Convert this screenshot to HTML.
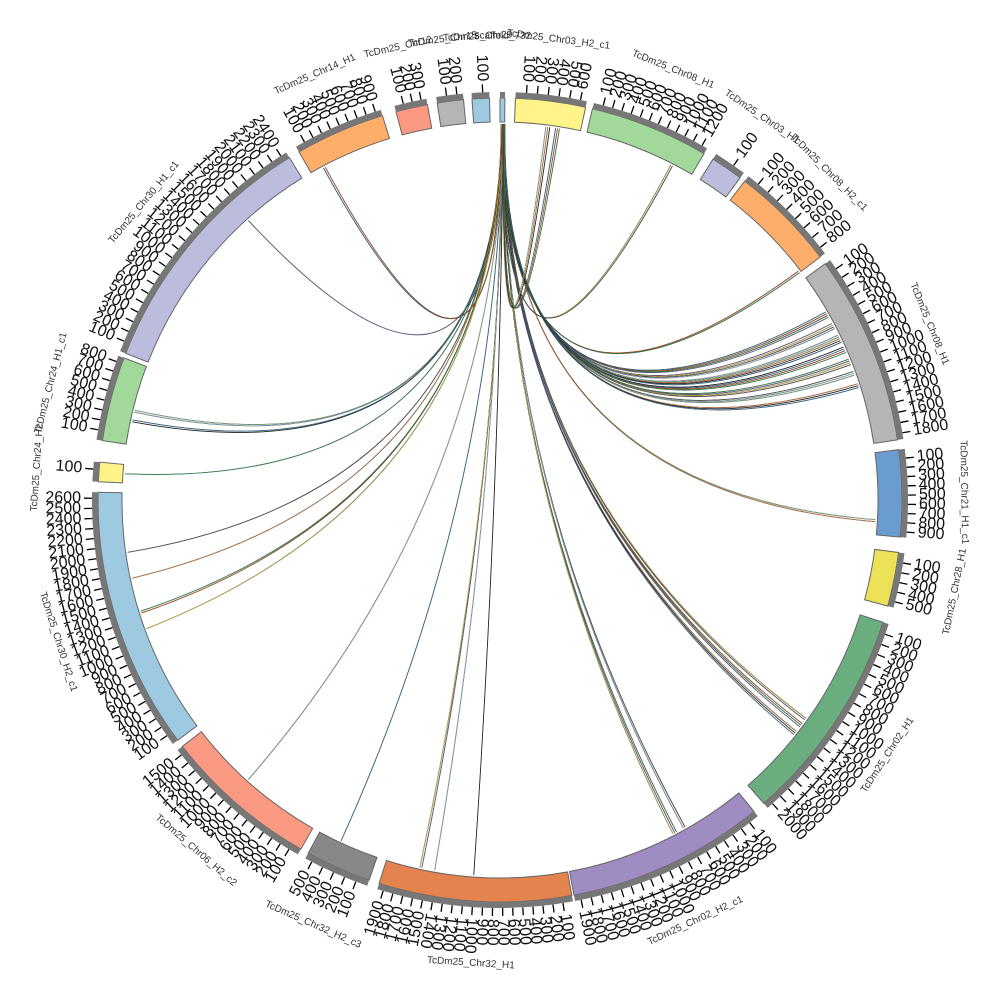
<!DOCTYPE html>
<html><head><meta charset="utf-8"><style>
html,body{margin:0;padding:0;background:#fff;width:1000px;height:1000px;overflow:hidden}
svg{display:block}
</style></head><body>
<svg id="s" width="1000" height="1000" xmlns="http://www.w3.org/2000/svg"></svg>
<script>
var S=document.getElementById('s'),NS='http://www.w3.org/2000/svg',CX=500,CY=500;
function el(t,a,txt){var e=document.createElementNS(NS,t);for(var k in a)e.setAttribute(k,a[k]);if(txt!=null)e.textContent=txt;S.appendChild(e);return e;}
function P(a,r){var t=a*Math.PI/180;return [CX+r*Math.sin(t),CY-r*Math.cos(t)];}
function arc(a0,a1,r0,r1,fill,stroke){var p0=P(a0,r1),p1=P(a1,r1),p2=P(a1,r0),p3=P(a0,r0),l=(a1-a0)>180?1:0;
el('path',{d:'M'+p0+' A'+r1+' '+r1+' 0 '+l+' 1 '+p1+' L'+p2+' A'+r0+' '+r0+' 0 '+l+' 0 '+p3+'Z',fill:fill,stroke:stroke||'none','stroke-width':1});}
var segs=[
[0,0.7,'#9ecae1','scaffold_732',0],
[2.2,12.3,'#fff38a','TcDm25_Chr03_H2_c1',6],
[13.3,30.5,'#a1d99b','TcDm25_Chr08_H1',12],
[32,36.7,'#bcbddc','TcDm25_Chr03_H1',1],
[37.5,52.8,'#fdae6b','TcDm25_Chr08_H2_c1',8],
[54,81.4,'#b5b5b5','TcDm25_Chr08_H1',18],
[82.8,95.3,'#6a9ccf','TcDm25_Chr21_H1_c1',9],
[97.5,105.3,'#ede157','TcDm25_Chr28_H1',5],
[107.7,139,'#6aae7f','TcDm25_Chr02_H1',20],
[140.8,169.4,'#9e8cc2','TcDm25_Chr02_H2_c1',19],
[169.7,197.5,'#e5834f','TcDm25_Chr32_H1',19],
[199,208.5,'#888888','TcDm25_Chr32_H2_c3',5],
[209.7,232.2,'#fb9a82','TcDm25_Chr06_H2_c2',15],
[233.3,271.1,'#9ecae1','TcDm25_Chr30_H2_c1',26],
[272.6,275.4,'#fff38a','TcDm25_Chr24_H2',1],
[278.5,290.7,'#a1d99b','TcDm25_Chr24_H1_c1',8],
[291.4,328.4,'#bcbddc','TcDm25_Chr30_H1_c1',24],
[330,343,'#fdae6b','TcDm25_Chr14_H1',9],
[345,349.6,'#fb9a82','TcDm25_Chr12',3],
[351,354.8,'#b5b5b5','TcDm25_Chr15',2],
[356,358.5,'#9ecae1','TcDm25_Chr29',1]];
var cols=['#3182bd','#e6550d','#31a354','#756bb1','#fdd835','#636363','#9ecae1','#a1d99b','#fd8d3c','#222'];
var links=[[0.2,332,2],[0.3,318,1],[0.2,283.5,2],[0.3,282,2],[0.4,274,1],[0.3,262,1],[0.2,258,1],[0.3,252.5,2],[0.4,250,1],[0.5,222,1],[0.4,205,1],[0.5,192,2],[0.3,190,1],[0.5,184,1],[0.4,152,3],[0.5,150.5,2],[0.3,128,3],[0.4,126.5,3],[0.6,125.5,2],[0.5,93,2],
[0.3,60,4],[0.4,62,4],[0.5,64,5],[0.3,66,4],[0.6,68,4],[0.4,70,3],[0.5,72,3],[0.4,52.5,2],[0.3,27,2],[0.5,7,3],[0.6,8.5,3]];
links.forEach(function(L,i){for(var k=0;k<L[2];k++){var a0=L[0]+k*0.05,a1=L[1]+k*0.3;var p0=P(a0,376),p1=P(a1,376);
el('path',{d:'M'+p0+' Q'+CX+' '+(CY-10)+' '+p1,fill:'none',stroke:'#222','stroke-width':0.9,opacity:0.9});
el('path',{d:'M'+p0+' Q'+CX+' '+(CY-10)+' '+p1,fill:'none',stroke:cols[(i*3+k)%cols.length],'stroke-width':0.5});}});
segs.forEach(function(s){
arc(s[0],s[1],378,402,s[2],'#666');
arc(s[0],s[1],402,408,'#777');
var n=s[4],span=s[1]-s[0];
for(var i=1;i<=n;i++){var a=s[0]+span*i/(n+0.6);if(a>s[1])break;
var q0=P(a,408),q1=P(a,416);el('line',{x1:q0[0],y1:q0[1],x2:q1[0],y2:q1[1],stroke:'#000','stroke-width':1.3});
var t=P(a,419),out=(a>10&&a<190);var rot=out?a-90:a+90;
el('text',{x:t[0],y:t[1],'font-family':'Liberation Sans,sans-serif','font-size':16,fill:'#111','text-anchor':out?'start':'end','dominant-baseline':'middle',transform:'rotate('+rot+' '+t[0]+' '+t[1]+')'},String(i*100));}
var m=(s[0]+s[1])/2,lp=P(m,464),bot=(m>90&&m<270);var r2=bot?m+180:m;
el('text',{x:lp[0],y:lp[1],'font-family':'Liberation Sans,sans-serif','font-size':10,fill:'#333','text-anchor':'middle','dominant-baseline':'middle',transform:'rotate('+r2+' '+lp[0]+' '+lp[1]+')'},s[3]);
});
</script>
</body></html>
